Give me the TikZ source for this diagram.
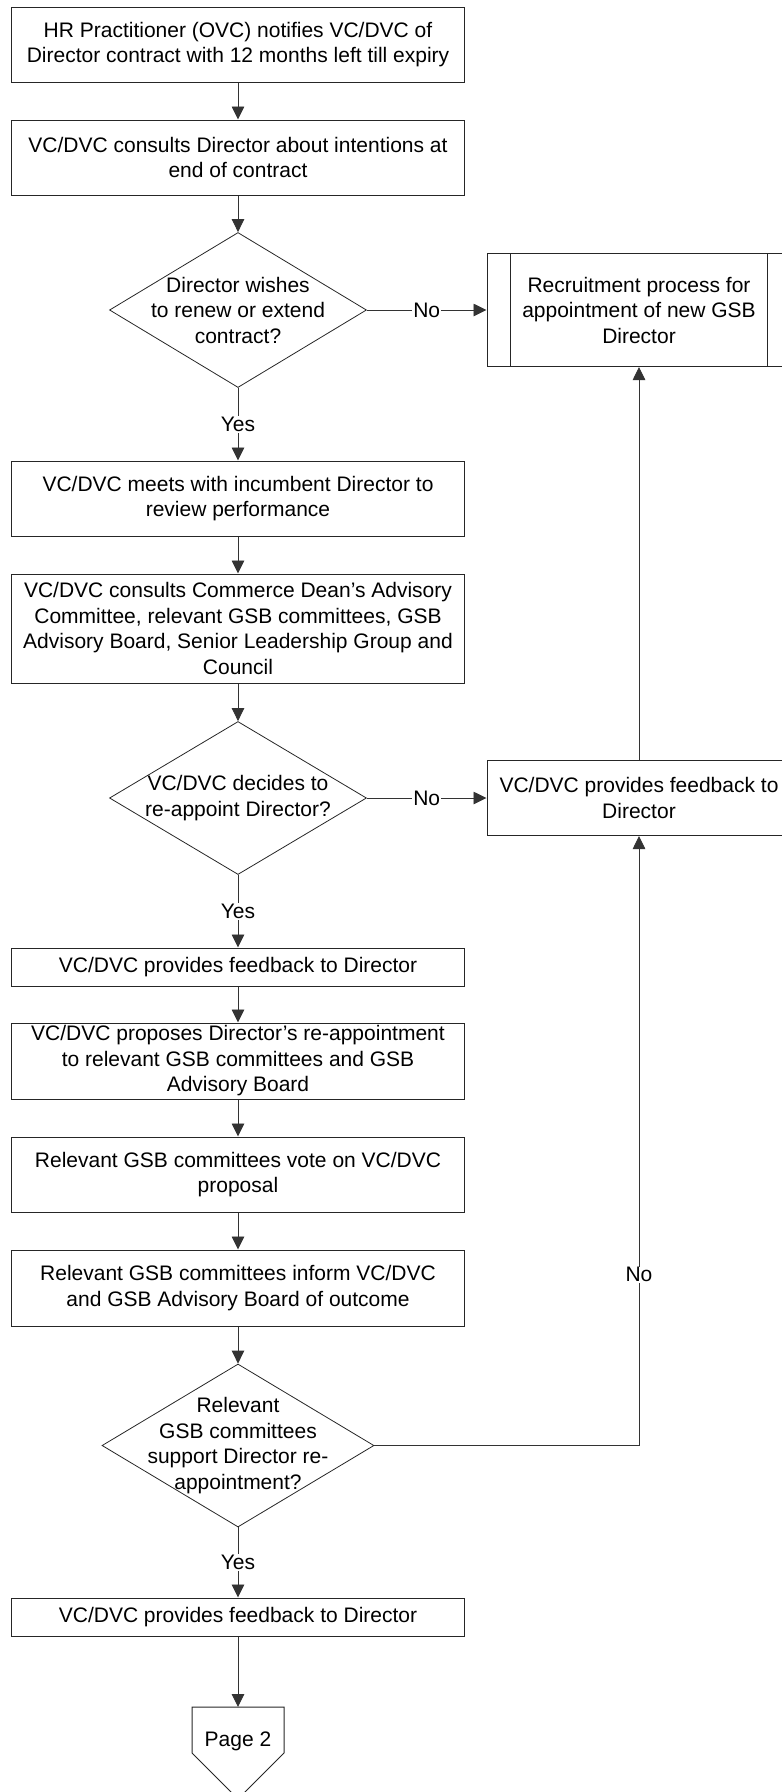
\documentclass[tikz,border=0pt]{standalone}
\usepackage{fontspec}
\setmainfont{Liberation Sans}
\usetikzlibrary{shapes.geometric,arrows.meta,calc}

\begin{document}
\begin{tikzpicture}
      [x = 1pt, y = -1pt,
      every node/.style = {font = \fontsize{21}{25.5}\selectfont},
      arrow/.style = {-{Triangle[length = 13pt, width = 12.5pt]}, line width = 0.9pt, draw = black!80},
      tag/.style = {fill = white, inner sep = 1pt},
      box/.style = {
         draw = black!85,
         rectangle,
         align = center,
         inner sep = 0pt,
         minimum width = 453pt,
         line width = 1pt
      },
      decision/.style = {
         draw = black!85,
         diamond,
         inner sep = 0pt,
         line width = 0.8pt
      },
      decisiontext/.style = {
         align = center,
         inner sep = 0pt
      }]
      \useasboundingbox (0, 0) rectangle (782, 1792);
      \clip (0, 0) rectangle (782, 1792);

      \node[box, minimum height = 75pt] (notify) at (238, 44.5) {HR Practitioner (OVC) notifies VC/DVC of\\Director contract with 12 months left till expiry};
      \node[box, minimum height = 75pt] (consult) at (238, 157.5) {VC/DVC consults Director about intentions at\\end of contract};
      \node[decision, minimum width = 257pt, minimum height = 155pt,
         label = {[decisiontext]center:{Director wishes\\to renew or extend\\contract?}}] (wishes) at (238, 310) {};
      \node[box, minimum width = 304pt, minimum height = 113pt] (recruit) at (639, 310) {Recruitment process for\\appointment of new GSB\\Director};
      \draw[line width = 1pt, black!85] ($(recruit.north west) + (24, 0)$) -- ($(recruit.south west) + (24, 0)$);
      \draw[line width = 1pt, black!85] ($(recruit.north east) - (24, 0)$) -- ($(recruit.south east) - (24, 0)$);

      \node[box, minimum height = 75pt] (review) at (238, 498.5) {VC/DVC meets with incumbent Director to\\review performance};
      \node[box, minimum height = 109pt] (consultall) at (238, 628.5) {VC/DVC consults Commerce Dean’s Advisory\\Committee, relevant GSB committees, GSB\\Advisory Board, Senior Leadership Group and\\Council};
      \node[decision, minimum width = 257pt, minimum height = 153pt,
         label = {[decisiontext]center:{VC/DVC decides to\\re-appoint Director?}}] (decides) at (238, 798) {};
      \node[box, minimum width = 304pt, minimum height = 75pt] (feedbackno) at (639, 798) {VC/DVC provides feedback to\\Director};

      \node[box, minimum height = 38pt] (feedbackyes) at (238, 967) {VC/DVC provides feedback to Director};
      \node[box, minimum height = 76pt] (propose) at (238, 1061) {VC/DVC proposes Director’s re-appointment\\to relevant GSB committees and GSB\\Advisory Board};
      \node[box, minimum height = 75pt] (vote) at (238, 1174.5) {Relevant GSB committees vote on VC/DVC\\proposal};
      \node[box, minimum height = 76pt] (inform) at (238, 1288) {Relevant GSB committees inform VC/DVC\\and GSB Advisory Board of outcome};
      \node[decision, minimum width = 272pt, minimum height = 163pt,
         label = {[decisiontext]center:{Relevant\\GSB committees\\support Director re-\\appointment?}}] (support) at (238, 1445.5) {};
      \node[box, minimum height = 38pt] (feedbackend) at (238, 1617) {VC/DVC provides feedback to Director};

      % off-page reference
      \node (page2) at (238, 1741) {Page 2};
      \coordinate (pagetop) at (238, 1707);
      \draw[line width = 1pt, black!85] (192, 1707) -- (284, 1707) -- (284, 1753) -- (238, 1799) -- (192, 1753) -- cycle;

      \draw[arrow] (notify) -- (consult);
      \draw[arrow] (consult) -- (wishes);
      \draw[arrow] (wishes) -- node[tag] {No} (recruit);
      \draw[arrow] (wishes) -- node[tag] {Yes} (review);
      \draw[arrow] (review) -- (consultall);
      \draw[arrow] (consultall) -- (decides);
      \draw[arrow] (decides) -- node[tag] {No} (feedbackno);
      \draw[arrow] (feedbackno) -- (recruit);
      \draw[arrow] (decides) -- node[tag] {Yes} (feedbackyes);
      \draw[arrow] (feedbackyes) -- (propose);
      \draw[arrow] (propose) -- (vote);
      \draw[arrow] (vote) -- (inform);
      \draw[arrow] (inform) -- (support);
      \draw[arrow] (support.east) -| node[tag, pos = 0.64] {No} (feedbackno.south);
      \draw[arrow] (support) -- node[tag] {Yes} (feedbackend);
      \draw[arrow] (feedbackend) -- (pagetop);
   \end{tikzpicture}
\end{document}
